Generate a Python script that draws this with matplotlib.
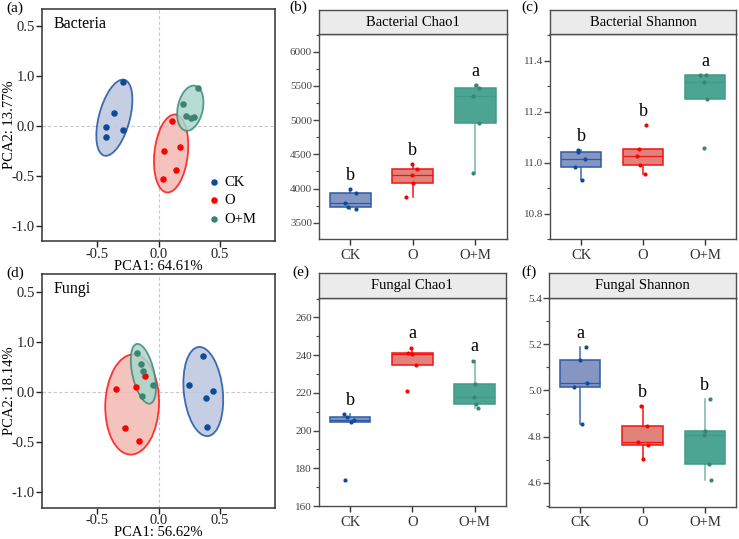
import numpy as np
import matplotlib
matplotlib.use('Agg')
import matplotlib.pyplot as plt
from matplotlib.patches import Ellipse
from matplotlib.ticker import MultipleLocator

plt.rcParams['font.family'] = ['Liberation Serif', 'DejaVu Serif']
plt.rcParams['axes.unicode_minus'] = False

groups = ['CK', 'O', 'O+M']

# PCA scores
bac_pca_x = {'CK': [-0.288, -0.364, -0.429, -0.288, -0.427],
             'O': [0.109, 0.043, 0.179, 0.144, 0.038],
             'O+M': [0.318, 0.198, 0.226, 0.261, 0.291]}
bac_pca_y = {'CK': [0.437, 0.130, -0.010, -0.037, -0.113],
             'O': [0.047, -0.253, -0.210, -0.437, -0.527],
             'O+M': [0.383, 0.223, 0.103, 0.083, 0.090]}
fun_pca_x = {'CK': [0.361, 0.247, 0.440, 0.383, 0.391],
             'O': [-0.111, -0.348, -0.182, -0.274, -0.158],
             'O+M': [-0.174, -0.141, -0.125, -0.043, -0.133]}
fun_pca_y = {'CK': [0.355, 0.067, 0.007, -0.064, -0.355],
             'O': [0.157, 0.027, 0.043, -0.368, -0.498],
             'O+M': [0.391, 0.278, 0.207, 0.067, -0.043]}

# alpha diversity
bac_chao1 = {'CK': [3997, 3929, 3792, 3704, 3724],
             'O': [4362, 4279, 4192, 4080, 3870],
             'O+M': [5469, 5513, 5347, 4957, 4226]}
bac_shannon = {'CK': [11.041, 11.049, 11.014, 10.984, 10.932],
               'O': [11.148, 11.054, 11.027, 10.992, 10.958],
               'O+M': [11.344, 11.343, 11.317, 11.251, 11.058]}
fun_chao1 = {'CK': [208.9, 207.0, 205.8, 204.8, 173.7],
             'O': [244.0, 240.8, 241.0, 235.0, 220.9],
             'O+M': [237.1, 224.5, 217.9, 214.0, 212.2]}
fun_shannon = {'CK': [5.188, 5.130, 5.032, 5.013, 4.853],
               'O': [4.931, 4.848, 4.779, 4.763, 4.704],
               'O+M': [4.961, 4.824, 4.807, 4.682, 4.614]}

bac_chao1_letters = ['b', 'b', 'a']
bac_shannon_letters = ['b', 'b', 'a']
fun_chao1_letters = ['b', 'a', 'a']
fun_shannon_letters = ['a', 'b', 'b']

pt_col = {'CK': '#0f4b9b', 'O': '#ff0000', 'O+M': '#3b8473'}
ell_edge = {'CK': '#1f55a3', 'O': '#ff1414', 'O+M': '#3d8a78'}
ell_fill = {'CK': '#bcc6de', 'O': '#f3b9b2', 'O+M': '#a9d6cc'}
box_fill = {'CK': '#8596c2', 'O': '#e1837b', 'O+M': '#4ca592'}
box_edge = {'CK': '#2c5aa6', 'O': '#f01414', 'O+M': '#3f9b88'}
whisk_col = {'CK': '#3f6cb0', 'O': '#f01414', 'O+M': '#7ab5a8'}

W, H = 739.0, 539.0
fig = plt.figure(figsize=(W / 100, H / 100), dpi=100)


def px_axes(l, t, r, b):
    return fig.add_axes([l / W, 1 - b / H, (r - l) / W, (b - t) / H])


def conf_ellipse(ax, x, y, g, k_major=1.75, k_minor=2.3):
    x = np.asarray(x); y = np.asarray(y)
    cov = np.cov(x, y)
    vals, vecs = np.linalg.eigh(cov)
    order = vals.argsort()[::-1]
    vals, vecs = vals[order], vecs[:, order]
    ang = np.degrees(np.arctan2(vecs[1, 0], vecs[0, 0]))
    e = Ellipse((x.mean(), y.mean()), 2 * k_major * np.sqrt(vals[0]), 2 * k_minor * np.sqrt(vals[1]),
                angle=ang, facecolor=ell_fill[g], edgecolor=ell_edge[g], lw=1.3, alpha=0.85, zorder=2)
    ax.add_patch(e)


def pca_panel(ax, xs, ys, name, xlab, ylab, xlim, ylim, legend=False):
    ax.axhline(0, color='#c8c8c8', lw=0.8, ls=(0, (3, 2)), zorder=1)
    ax.axvline(0, color='#c8c8c8', lw=0.8, ls=(0, (3, 2)), zorder=1)
    for g in groups:
        conf_ellipse(ax, xs[g], ys[g], g)
    for g in groups:
        ax.scatter(xs[g], ys[g], s=22, color=pt_col[g], zorder=4, label=g, linewidths=0)
    ax.set_xlim(*xlim)
    ax.set_ylim(*ylim)
    ax.set_xticks([-0.5, 0.0, 0.5])
    ax.set_xticklabels(['-0.5', '0.0', '0.5'])
    ax.set_yticks([1.0, 0.5, 0.0, -0.5, -1.0])
    ax.set_yticklabels(['0.5', '1.0', '0.0', '-0.5', '-1.0'])
    ax.tick_params(labelsize=10.5, length=4, width=1, pad=1, colors='#222222')
    for s in ax.spines.values():
        s.set_color('#333333'); s.set_linewidth(1.1)
    ax.set_xlabel(xlab, fontsize=10.5, labelpad=-1)
    ax.set_ylabel(ylab, fontsize=10.5)
    ax.yaxis.set_label_coords(-0.112, 0.5)
    ax.text(0.05, 0.935, name, transform=ax.transAxes, fontsize=11.5, va='center')
    if legend:
        ax.legend(loc='lower left', bbox_to_anchor=(0.645, 0.01), frameon=False, fontsize=10.5,
                  handletextpad=0.1, labelspacing=0.35, markerscale=1.0, handlelength=1.2)


def box_panel(ax, sax, data, letters, title, ylim, major, minor, seed):
    rng = np.random.default_rng(seed)
    vals = [data[g] for g in groups]
    bp = ax.boxplot(vals, positions=[1, 2, 3], widths=0.65, patch_artist=True, showfliers=False,
                    showcaps=False, whis=1.5)
    for i, g in enumerate(groups):
        bp['boxes'][i].set(facecolor=box_fill[g], edgecolor=box_edge[g], linewidth=1.1, zorder=2)
        bp['medians'][i].set(color=box_edge[g], linewidth=0.9, zorder=3)
        for w in bp['whiskers'][2 * i:2 * i + 2]:
            w.set(color=whisk_col[g], linewidth=1.1, zorder=1)
        jit = rng.uniform(-0.11, 0.11, len(data[g]))
        ax.scatter(np.full(len(data[g]), i + 1) + jit, data[g], s=9, color=pt_col[g], zorder=4,
                   linewidths=0)
        ax.text(i + 1, max(data[g]) + 0.025 * (ylim[1] - ylim[0]), letters[i], ha='center',
                va='bottom', fontsize=13)
    ax.set_xlim(0.5, 3.5)
    ax.set_ylim(*ylim)
    ax.set_xticks([1, 2, 3])
    ax.set_xticklabels(groups)
    ax.yaxis.set_major_locator(MultipleLocator(major))
    ax.yaxis.set_minor_locator(MultipleLocator(minor))
    ax.tick_params(axis='x', labelsize=10.5, length=4, width=1, pad=3, colors='#333333')
    ax.tick_params(axis='y', which='major', labelsize=8, length=4, width=1, pad=1,
                   colors='#444444')
    ax.tick_params(axis='y', which='minor', length=2.5, width=0.8, colors='#444444')
    for s in ax.spines.values():
        s.set_color('#4d4d4d'); s.set_linewidth(1.0)
    sax.set_facecolor('#ebebeb')
    sax.set_xticks([]); sax.set_yticks([])
    for s in sax.spines.values():
        s.set_color('#4d4d4d'); s.set_linewidth(1.0)
    sax.text(0.5, 0.48, title, transform=sax.transAxes, ha='center', va='center', fontsize=10.5)


# top row
ax_a = px_axes(42, 9, 275, 241)
pca_panel(ax_a, bac_pca_x, bac_pca_y, 'Bacteria', 'PCA1: 64.61%', 'PCA2: 13.77%',
          (-0.948, 0.948), (-1.15, 1.167), legend=True)
ax_b = px_axes(319, 34, 506.5, 239)
sax_b = px_axes(319, 10, 506.5, 34)
box_panel(ax_b, sax_b, bac_chao1, bac_chao1_letters, 'Bacterial Chao1', (3262, 6259), 500, 250, 1)
ax_c = px_axes(550, 34, 736, 239.3)
sax_c = px_axes(550, 10, 736, 34)
box_panel(ax_c, sax_c, bac_shannon, bac_shannon_letters, 'Bacterial Shannon', (10.70, 11.505), 0.2, 0.1, 2)

# bottom row
ax_d = px_axes(42, 274, 275, 507.5)
pca_panel(ax_d, fun_pca_x, fun_pca_y, 'Fungi', 'PCA1: 56.62%', 'PCA2: 18.14%',
          (-0.948, 0.948), (-1.16, 1.18))
ax_e = px_axes(319, 298, 505.7, 506)
sax_e = px_axes(319, 273, 505.7, 298)
box_panel(ax_e, sax_e, fun_chao1, fun_chao1_letters, 'Fungal Chao1', (160, 270.3), 20, 10, 3)
ax_f = px_axes(549, 298, 736, 506.7)
sax_f = px_axes(549, 273, 736, 298)
box_panel(ax_f, sax_f, fun_shannon, fun_shannon_letters, 'Fungal Shannon', (4.497, 5.40), 0.2, 0.1, 4)

for lab, x, y in [('(a)', 6, 8), ('(b)', 289, 7), ('(c)', 521, 7),
                  ('(d)', 6, 273), ('(e)', 292, 272), ('(f)', 521, 272)]:
    fig.text(x / W, 1 - y / H, lab, fontsize=11, va='center', ha='left')

fig.savefig('out.png', dpi=100)
